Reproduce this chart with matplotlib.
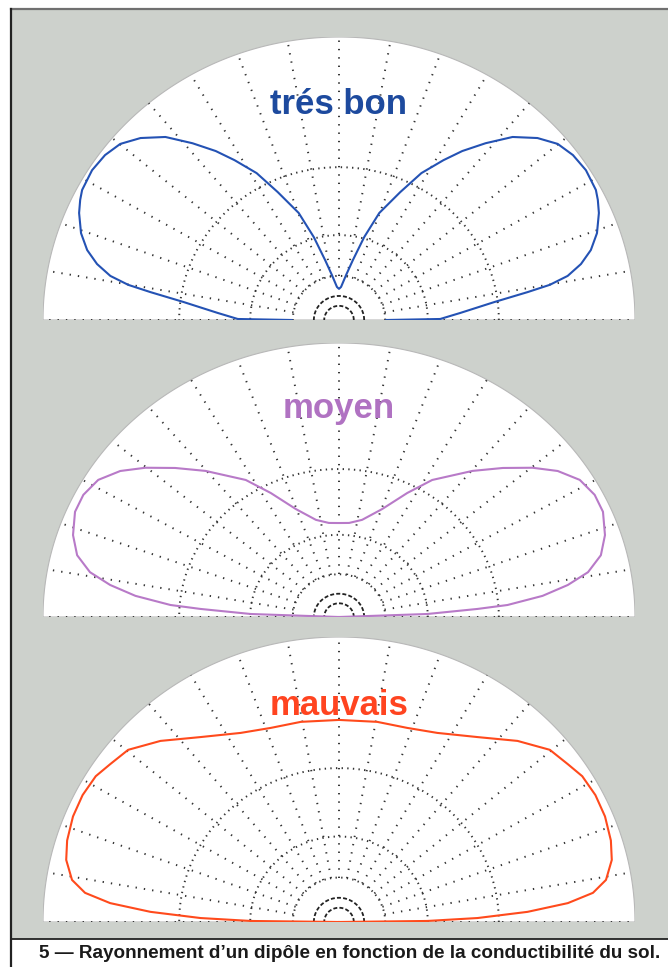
import numpy as np
import matplotlib.pyplot as plt
from matplotlib.patches import Rectangle

# elevation angle (deg) and relative radius on the log scale, one side of the pattern
elev_bon = [0, 0.6, 3.5, 6.9, 8.8, 9.9, 11.4, 13.6, 16.2, 19.4, 23.3, 25.9, 27.9, 32.4,
            36.4, 40.1, 43.8, 47.8, 51.6, 55.1, 58.0, 61.8, 65.4, 70.2, 73.8, 77.5,
            81.4, 86.6, 90.0]
r_bon = [0.16, 0.342, 0.411, 0.529, 0.645, 0.723, 0.788, 0.841, 0.886, 0.924, 0.956,
         0.972, 0.982, 0.988, 0.982, 0.966, 0.929, 0.873, 0.797, 0.728, 0.666, 0.589,
         0.497, 0.402, 0.305, 0.217, 0.161, 0.117, 0.11]

elev_moy = [0, 2.1, 3.6, 4.4, 6.4, 8.6, 11.0, 14.3, 18.4, 23.3, 27.3, 31.6, 35.8, 39.8,
            44.5, 49.8, 57.8, 63.0, 69.7, 77.6, 84.3, 90.0]
r_moy = [0, 0.298, 0.469, 0.571, 0.692, 0.782, 0.857, 0.913, 0.947, 0.971, 0.972, 0.955,
         0.911, 0.851, 0.776, 0.698, 0.591, 0.508, 0.42, 0.363, 0.345, 0.343]

elev_mau = [0, 0.7, 1.7, 3.2, 4.9, 6.8, 9.3, 13.3, 17.3, 22.4, 27.2, 31.9, 35.6, 40.3,
            46.5, 54.2, 63.4, 71.3, 79.6, 90.0]
r_mau = [0, 0.298, 0.468, 0.638, 0.776, 0.864, 0.914, 0.947, 0.962, 0.972, 0.974, 0.968,
         0.951, 0.934, 0.876, 0.8, 0.742, 0.719, 0.714, 0.709]

labels = ["trés bon", "moyen", "mauvais"]
curve_colors = ["#2452b4", "#b87ac8", "#ff4a1c"]
label_colors = ["#1d4a9e", "#b072c2", "#ff4420"]

# grid of the polar diagram
ring_r = [0.156, 0.30, 0.54]
inner_r = [0.05, 0.085]
spoke_deg = np.arange(0, 181, 10)

W, H = 668, 967
fig = plt.figure(figsize=(W / 100, H / 100), dpi=100)
fig.patch.set_facecolor("white")

bg = fig.add_axes([0, 0, 1, 1])
bg.set_xlim(0, W)
bg.set_ylim(H, 0)
bg.axis("off")
bg.add_patch(Rectangle((11, 9), W - 11, 930, facecolor="#cdd1cc", edgecolor="none"))
bg.plot([11, W], [9, 9], color="#707070", lw=1.6)
bg.plot([11, 11], [9, H], color="#222222", lw=1.6)
bg.plot([11, W], [939, 939], color="#222222", lw=1.3)
bg.text(350, 954, "5 \u2014 Rayonnement d\u2019un dipôle en fonction de la conductibilité du sol.",
        ha="center", va="center", fontsize=13.6, color="#1a1a1a",
        family=["Liberation Sans", "DejaVu Sans"], fontweight="bold")

# (top, baseline) of each half disc in pixels
panels = [(37, 320), (343, 617), (637, 922)]
x0, x1 = 43, 635


def pol(r, deg):
    t = np.radians(deg)
    return r * np.cos(t), r * np.sin(t)


def draw_panel(ax, elev, rad, color, label, lcolor):
    ax.set_xlim(-1, 1)
    ax.set_ylim(0, 1)
    ax.axis("off")
    th = np.linspace(0, 180, 361)
    ex, ey = pol(1.0, th)
    ax.fill(ex, ey, facecolor="white", edgecolor="#b8b8b8", lw=0.8, zorder=0)

    for r in ring_r:
        gx, gy = pol(r, th)
        ax.plot(gx, gy, color="#333333", lw=1.4, ls=(0, (0.7, 2.2)), zorder=1)
    for r in inner_r:
        gx, gy = pol(r, th)
        ax.plot(gx, gy, color="#222222", lw=1.3, ls=(0, (2.2, 1.2)), zorder=1)
    for a in spoke_deg:
        sx, sy = pol(np.array([ring_r[0], 1.0]), a)
        ax.plot(sx, sy, color="#333333", lw=1.4, ls=(0, (0.7, 3.6)), zorder=1)

    e = np.asarray(elev, float)
    r = np.asarray(rad, float)
    # symmetric pattern: right side from the ground up, left side mirrored back down
    ang = np.concatenate([e, 180 - e[::-1]])
    rr = np.concatenate([r, r[::-1]])
    cx, cy = pol(rr, ang)
    ax.plot(cx, cy, color=color, lw=1.5, zorder=3, solid_joinstyle="round")

    ax.text(0, 0.76, label, ha="center", va="center", fontsize=25, fontweight="bold",
            color=lcolor, family=["Liberation Sans", "DejaVu Sans"], zorder=4)


series = [(elev_bon, r_bon), (elev_moy, r_moy), (elev_mau, r_mau)]
for (top, base), (el, rd), c, lab, lc in zip(panels, series, curve_colors, labels, label_colors):
    ax = fig.add_axes([x0 / W, 1 - base / H, (x1 - x0) / W, (base - top) / H])
    draw_panel(ax, el, rd, c, lab, lc)

fig.savefig("out.png", dpi=100)
